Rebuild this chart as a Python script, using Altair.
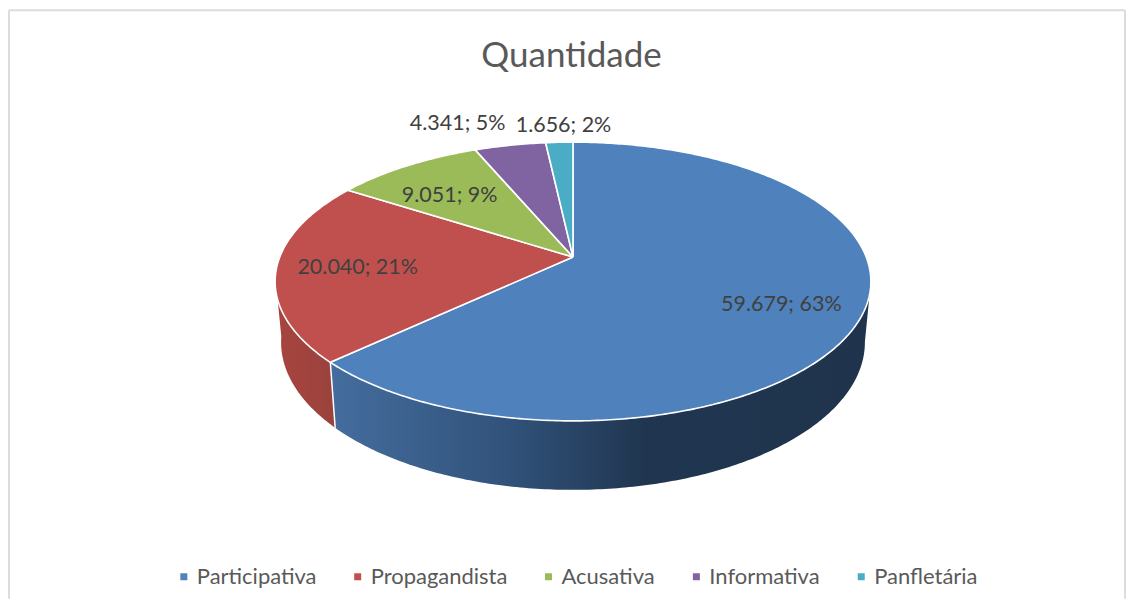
import math
import altair as alt
import pandas as pd

CATEGORIES = ["Participativa", "Propagandista", "Acusativa", "Informativa", "Panfletária"]
VALUES = [59679, 20040, 9051, 4341, 1656]
LABELS = ["59.679; 63%", "20.040; 21%", "9.051; 9%", "4.341; 5%", "1.656; 2%"]
COLORS = ["#4f81bd", "#c0504d", "#9bbb59", "#8064a2", "#4bacc6"]
LABEL_X = [781, 357, 449, 457, 563]
LABEL_Y = [305.5, 267.5, 195.5, 123.5, 125.5]

W, H = 1118, 591
CX, CY, A, B, K = 572.5, 257.0, 293.5, 135.2, 0.1756
DROP, SHRINK_X, SHRINK_Y = 59.2, 0.98, 1.06


def rim(deg, sx=1.0, sy=1.0, d=0.0):
    a = math.radians(deg)
    u, v = math.sin(a), math.cos(a)
    w = 1 + K * v
    return CX + sx * A * u / w, CY + d - sy * B * v / w


total = sum(VALUES)
edges = [0.0]
for v in VALUES:
    edges.append(edges[-1] + 360.0 * v / total)

top_rows = []
for name, a0, a1 in zip(CATEGORIES, edges[:-1], edges[1:]):
    n = max(3, int((a1 - a0) * 1.5))
    pts = [(CX, CY)] + [rim(a0 + (a1 - a0) * i / n) for i in range(n + 1)] + [(CX, CY)]
    for i, (x, y) in enumerate(pts):
        top_rows.append({"name": name, "i": i, "x": x, "y": y})
top = pd.DataFrame(top_rows)


def side(a0, a1):
    n = int(abs(a1 - a0) * 1.5)
    angs = [a0 + (a1 - a0) * i / n for i in range(n + 1)]
    pts = [rim(t) for t in angs] + [rim(t, SHRINK_X, SHRINK_Y, DROP) for t in reversed(angs)]
    pts.append(pts[0])
    return pd.DataFrame([{"i": i, "x": x, "y": y} for i, (x, y) in enumerate(pts)])


X = alt.X("x:Q", axis=None, scale=alt.Scale(domain=[8, 8 + W]))
Y = alt.Y("y:Q", axis=None, scale=alt.Scale(domain=[8 + H, 8]))
ORDER = alt.Order("i:Q")

blue_grad = alt.Gradient(
    gradient="linear", x1=0, y1=0, x2=1, y2=0,
    stops=[
        alt.GradientStop(offset=0.0, color="#446d9e"),
        alt.GradientStop(offset=0.33, color="#31527a"),
        alt.GradientStop(offset=0.58, color="#203650"),
        alt.GradientStop(offset=1.0, color="#1f334c"),
    ],
)
red_grad = alt.Gradient(
    gradient="linear", x1=0, y1=0, x2=1, y2=0,
    stops=[
        alt.GradientStop(offset=0.0, color="#a8443f"),
        alt.GradientStop(offset=1.0, color="#9a423d"),
    ],
)

side_blue = alt.Chart(side(100, edges[1])).mark_line(
    fill=blue_grad, stroke="#ffffff", strokeWidth=0.8, strokeOpacity=0.0
).encode(x=X, y=Y, order=ORDER)
side_red = alt.Chart(side(edges[1], 262)).mark_line(
    fill=red_grad, stroke="#ffffff", strokeWidth=0.8, strokeOpacity=0.0
).encode(x=X, y=Y, order=ORDER)
seam = alt.Chart(
    pd.DataFrame([
        {"i": 0, "x": rim(edges[1])[0], "y": rim(edges[1])[1]},
        {"i": 1, "x": rim(edges[1], SHRINK_X, SHRINK_Y, DROP)[0], "y": rim(edges[1], SHRINK_X, SHRINK_Y, DROP)[1]},
    ])
).mark_line(color="#ffffff", strokeWidth=1.5).encode(x=X, y=Y, order=ORDER)

slices = alt.Chart(top).mark_line(
    stroke="#ffffff", strokeWidth=1.6, strokeJoin="round"
).encode(
    x=X, y=Y, order=ORDER,
    fill=alt.Fill(
        "name:N",
        scale=alt.Scale(domain=CATEGORIES, range=COLORS),
        legend=alt.Legend(
            title=None, orient="none", direction="horizontal",
            legendX=164, legendY=558,
            symbolType="square", symbolSize=49, symbolStrokeWidth=0,
            labelFont="Lato", labelFontSize=22, labelColor="#595959",
            columnPadding=30, labelOffset=2, columns=5,
            labelLimit=300,
        ),
    ),
)

labels = alt.Chart(
    pd.DataFrame({"x": LABEL_X, "y": LABEL_Y, "t": LABELS})
).mark_text(font="Lato", fontSize=21.5, color="#404040", align="center", baseline="middle").encode(
    x=X, y=Y, text="t:N"
)

frame = [
    alt.Chart(pd.DataFrame({"a": [0]})).mark_rule(color="#dcdcdc", strokeWidth=2).encode(
        x=alt.value(0), y=alt.value(2), y2=alt.value(H)
    ),
    alt.Chart(pd.DataFrame({"a": [0]})).mark_rule(color="#dcdcdc", strokeWidth=2).encode(
        x=alt.value(W - 1), y=alt.value(2), y2=alt.value(H)
    ),
    alt.Chart(pd.DataFrame({"a": [0]})).mark_rule(color="#dcdcdc", strokeWidth=2).encode(
        x=alt.value(0), x2=alt.value(W - 1), y=alt.value(2)
    ),
]

chart = alt.layer(*frame, side_blue, side_red, slices, seam, labels).properties(
    width=W, height=H, padding=0,
    title=alt.TitleParams(
        "Quantidade", font="Lato", fontSize=35, fontWeight="normal", color="#595959",
        anchor="middle", offset=-66, dx=4,
    ),
).configure_view(stroke=None)

chart.save("out.html", embed_options={"renderer": "svg", "actions": False})
